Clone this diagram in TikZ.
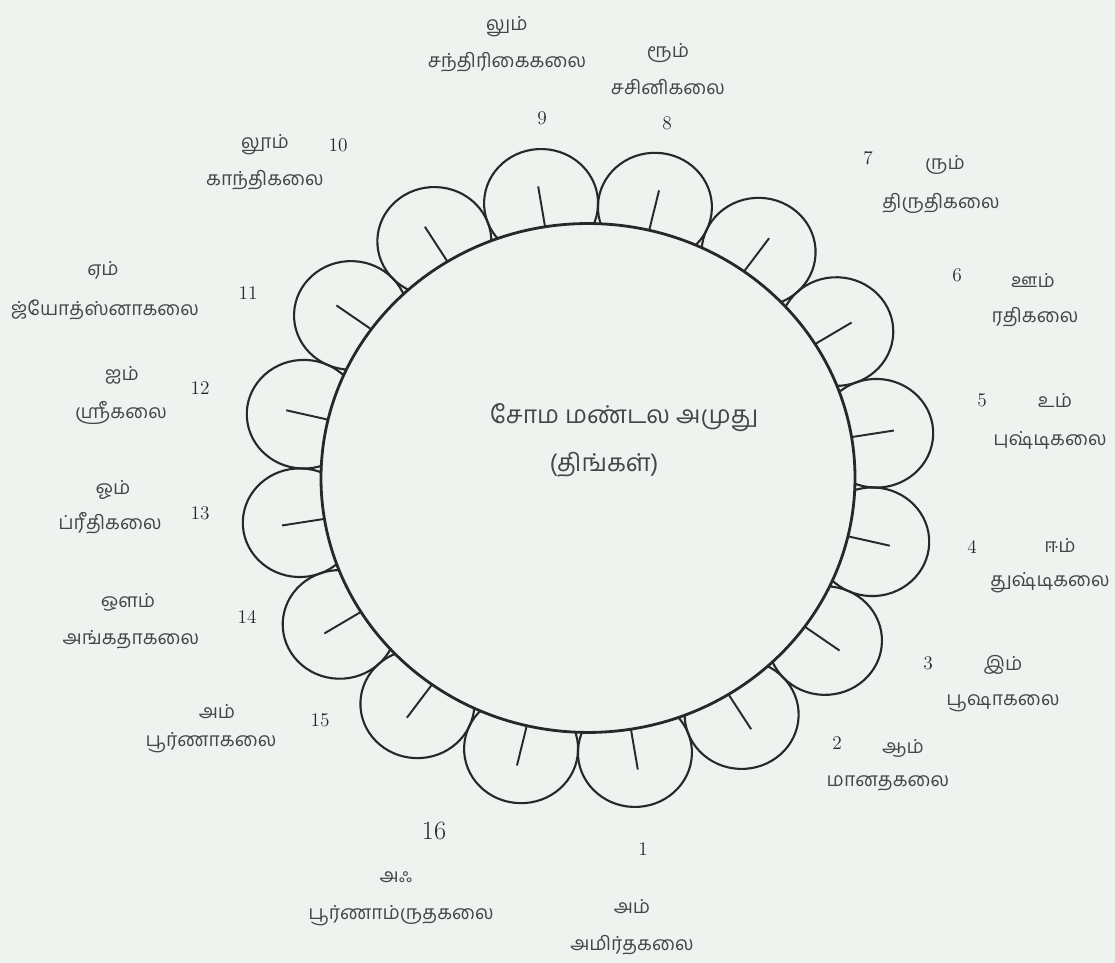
\documentclass[tikz,border=0pt]{standalone}
\usepackage{fontspec}
\newfontfamily\tamil[Script=Tamil]{Hind Madurai}
\definecolor{scanbg}{RGB}{238,243,240}
\definecolor{inkdark}{RGB}{40,40,40}
\definecolor{inkgray}{RGB}{70,70,70}
\usetikzlibrary{positioning}

\begin{document}
\begin{tikzpicture}[font=\tamil,
  petal/.style={draw=inkdark,line width=1.2pt},
  ring/.style={draw=inkdark,line width=1.6pt},
  tick/.style={draw=inkdark,line width=1.1pt},
  numtxt/.style={font=\rmfamily\fontsize{11}{13}\selectfont,text=inkdark,inner sep=1pt},
  bijatxt/.style={font=\tamil\fontsize{11}{13}\selectfont,text=inkgray,inner sep=1pt},
  kalatxt/.style={font=\tamil\fontsize{11}{13}\selectfont,text=inkgray,inner sep=1pt}]
  \fill[scanbg] (0,0) rectangle (22.3,19.26);
  \useasboundingbox (0,0) rectangle (22.3,19.26);
  % lotus: sixteen petals round the moon disc
  \begin{scope}[shift={(11.76,9.70)},yscale=0.953,rotate=-2]
    \foreach \i in {1,...,16}{
      \draw[petal] ({22.5*\i-101.25}:5.84) circle (1.14);
    }
    \fill[scanbg] (0,0) circle (5.34);
    \foreach \i in {1,...,16}{
      \draw[tick] ({22.5*\i-101.25}:5.34) -- ({22.5*\i-101.25}:6.2);
    }
    \draw[ring] (0,0) circle (5.34);
  \end{scope}
  \node[font=\tamil\fontsize{14}{16}\selectfont,text=inkgray] (mandalam) at (12.48,10.90) {சோம மண்டல அமுது};
  \node[font=\tamil\fontsize{14}{16}\selectfont,text=inkgray] (tingal) at (12.08,9.96) {(திங்கள்)};
  % petal labels: number, bija letter, kalai
  \foreach \i/\nx/\ny/\bx/\by/\kx/\ky/\bija/\kalai in {
    1/12.86/2.28/12.64/1.12/12.64/0.36/அம்/அமிர்தகலை,
    2/16.74/4.40/18.06/4.30/17.76/3.60/ஆம்/மானதகலை,
    3/18.56/6.00/20.06/5.96/20.06/5.20/இம்/பூஷாகலை,
    4/19.44/8.32/21.20/8.36/21.00/7.60/ஈம்/துஷ்டிகலை,
    5/19.64/11.26/21.10/11.26/21.00/10.46/உம்/புஷ்டிகலை,
    6/19.14/13.76/20.66/13.66/20.70/12.92/ஊம்/ரதிகலை,
    7/17.36/16.10/18.90/15.96/18.82/15.20/ரும்/திருதிகலை,
    8/13.34/16.80/13.36/18.20/13.36/17.52/ரூம்/சசினிகலை,
    9/10.84/16.90/10.14/18.72/10.14/18.02/லும்/சந்திரிகைகலை,
    10/6.76/16.36/5.30/16.36/5.30/15.66/லூம்/காந்திகலை,
    11/4.96/13.40/2.06/13.86/2.10/13.06/ஏம்/ஜ்யோத்ஸ்னாகலை,
    12/4.00/11.50/2.44/11.76/2.42/11.00/ஐம்/ஸ்ரீகலை,
    13/4.00/9.00/2.26/9.46/2.20/8.80/ஓம்/ப்ரீதிகலை,
    14/4.94/6.92/2.56/7.22/2.62/6.46/ஔம்/அங்கதாகலை,
    15/6.40/4.86/4.34/5.02/4.22/4.40/அம்/பூர்ணாகலை}{
    \node[numtxt] (num\i) at (\nx,\ny) {\i};
    \node[bijatxt] (bija\i) at (\bx,\by) {\bija};
    \node[kalatxt] (kala\i) at (\kx,\ky) {\kalai};
  }
  \node[numtxt,font=\rmfamily\fontsize{15}{17}\selectfont] (num16) at (8.68,2.64) {16};
  \node[bijatxt] (bija16) at (7.92,1.72) {அஃ};
  \node[kalatxt] (kala16) at (8.02,0.94) {பூர்ணாம்ருதகலை};
\end{tikzpicture}
\end{document}
